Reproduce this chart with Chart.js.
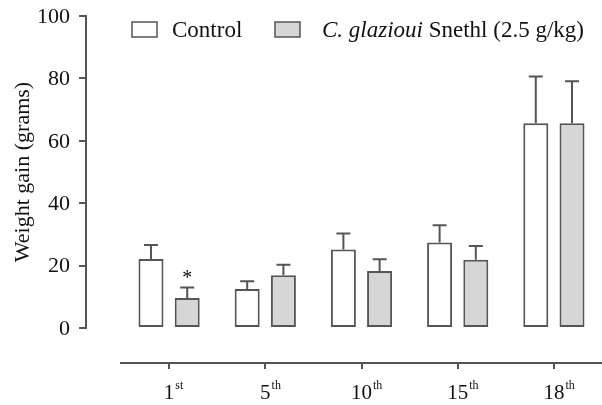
<!DOCTYPE html>
<html lang="en">
  <head>
    <meta charset="UTF-8" />
    <title>Weight gain</title>
    <script src="https://cdn.jsdelivr.net/npm/chart.js"></script>
    <style>
      html, body { margin: 0; padding: 0; background: #fff; }
    </style>
  </head>
  <body>
    <canvas id="weightChart" width="602" height="405"></canvas>

    <script>
        // data
        const days = ['1', '5', '10', '15', '18'];
        const daySuffix = ['st', 'th', 'th', 'th', 'th'];
        const controlMean = [22.1, 12.5, 25.2, 27.4, 65.6];
        const controlSem = [4.5, 2.5, 5.1, 5.5, 15.0];
        const extractMean = [9.6, 16.9, 18.3, 21.9, 65.6];
        const extractSem = [3.4, 3.4, 3.7, 4.4, 13.5];
        const extractMarks = ['*', '', '', '', ''];
        const yTicks = [0, 20, 40, 60, 80, 100];

        const serif = '"Liberation Serif", "Times New Roman", serif';
        const lineColor = '#555555';
        const textColor = '#111111';

        const errors = [controlSem, extractSem];
        const marks = [null, extractMarks];

        // upward error bars + significance star
        const errorBars = {
            id: 'errorBars',
            afterDatasetsDraw(chart) {
                const ctx = chart.ctx;
                const yScale = chart.scales.y;
                chart.data.datasets.forEach((ds, i) => {
                    chart.getDatasetMeta(i).data.forEach((bar, j) => {
                        const top = yScale.getPixelForValue(ds.data[j] + errors[i][j]);
                        const cap = bar.width * 0.28;
                        ctx.save();
                        ctx.strokeStyle = lineColor;
                        ctx.lineWidth = 2;
                        ctx.beginPath();
                        ctx.moveTo(bar.x, bar.y);
                        ctx.lineTo(bar.x, top);
                        ctx.moveTo(bar.x - cap, top);
                        ctx.lineTo(bar.x + cap, top);
                        ctx.stroke();
                        if (marks[i] && marks[i][j]) {
                            ctx.fillStyle = textColor;
                            ctx.font = '20px ' + serif;
                            ctx.textAlign = 'center';
                            ctx.textBaseline = 'alphabetic';
                            ctx.fillText(marks[i][j], bar.x, top - 3);
                        }
                        ctx.restore();
                    });
                });
            }
        };

        // tick labels, y title, legend
        const decorations = {
            id: 'decorations',
            afterDraw(chart) {
                const ctx = chart.ctx;
                const xScale = chart.scales.x;
                const yScale = chart.scales.y;
                ctx.save();
                ctx.fillStyle = textColor;

                // y tick labels
                ctx.font = '22px ' + serif;
                ctx.textAlign = 'right';
                ctx.textBaseline = 'middle';
                yTicks.forEach(v => {
                    ctx.fillText(String(v), 70, yScale.getPixelForValue(v) + 1);
                });

                // x tick labels with ordinal superscripts
                ctx.textBaseline = 'alphabetic';
                days.forEach((d, i) => {
                    const x = xScale.getPixelForValue(i);
                    ctx.font = '21px ' + serif;
                    const w = ctx.measureText(d).width;
                    ctx.textAlign = 'center';
                    ctx.fillText(d, x, 399);
                    ctx.font = '12px ' + serif;
                    ctx.textAlign = 'left';
                    ctx.fillText(daySuffix[i], x + w / 2 + 1, 389);
                });

                // y axis title
                ctx.save();
                ctx.translate(29, 172);
                ctx.rotate(-Math.PI / 2);
                ctx.font = '22px ' + serif;
                ctx.textAlign = 'center';
                ctx.fillText('Weight gain (grams)', 0, 0);
                ctx.restore();

                // legend
                const sets = chart.data.datasets;
                ctx.lineWidth = 1.5;
                ctx.strokeStyle = lineColor;
                ctx.font = '23px ' + serif;
                ctx.textAlign = 'left';

                ctx.fillStyle = sets[0].backgroundColor;
                ctx.fillRect(132, 22, 25, 15);
                ctx.strokeRect(132, 22, 25, 15);
                ctx.fillStyle = textColor;
                ctx.fillText(sets[0].label, 172, 37);

                ctx.fillStyle = sets[1].backgroundColor;
                ctx.fillRect(275, 22, 25, 15);
                ctx.strokeRect(275, 22, 25, 15);
                ctx.fillStyle = textColor;
                ctx.font = 'italic 23px ' + serif;
                const species = 'C. glazioui';
                ctx.fillText(species, 322, 37);
                const sw = ctx.measureText(species).width;
                ctx.font = '23px ' + serif;
                ctx.fillText(' Snethl (2.5 g/kg)', 322 + sw, 37);
                ctx.restore();
            }
        };

        const ctx = document.getElementById('weightChart').getContext('2d');
        new Chart(ctx, {
            type: 'bar',
            data: {
                labels: days,
                datasets: [
                    {
                        label: 'Control',
                        data: controlMean,
                        backgroundColor: '#ffffff',
                        borderColor: lineColor,
                        borderWidth: 2,
                        borderSkipped: false,
                        categoryPercentage: 0.753,
                        barPercentage: 0.69
                    },
                    {
                        label: 'C. glazioui Snethl (2.5 g/kg)',
                        data: extractMean,
                        backgroundColor: '#d6d6d6',
                        borderColor: lineColor,
                        borderWidth: 2,
                        borderSkipped: false,
                        categoryPercentage: 0.753,
                        barPercentage: 0.69
                    }
                ]
            },
            options: {
                responsive: false,
                animation: false,
                layout: { padding: { left: 121, right: -3, top: 16, bottom: 77 } },
                plugins: {
                    legend: { display: false },
                    tooltip: { enabled: false }
                },
                scales: {
                    x: {
                        type: 'category',
                        offset: true,
                        position: { y: -11.2 },
                        grid: { offset: false, drawOnChartArea: false, tickLength: 5, color: lineColor, lineWidth: 2 },
                        border: { color: lineColor, width: 2 },
                        ticks: { callback: () => '' }
                    },
                    y: {
                        min: 0,
                        max: 100,
                        position: { x: -0.862 },
                        afterBuildTicks: scale => { scale.ticks = yTicks.map(v => ({ value: v })); },
                        grid: { drawOnChartArea: false, tickLength: 6, color: lineColor, lineWidth: 2 },
                        border: { color: lineColor, width: 2 },
                        ticks: { callback: () => '' }
                    }
                }
            },
            plugins: [errorBars, decorations]
        });
    </script>
  </body>
</html>
